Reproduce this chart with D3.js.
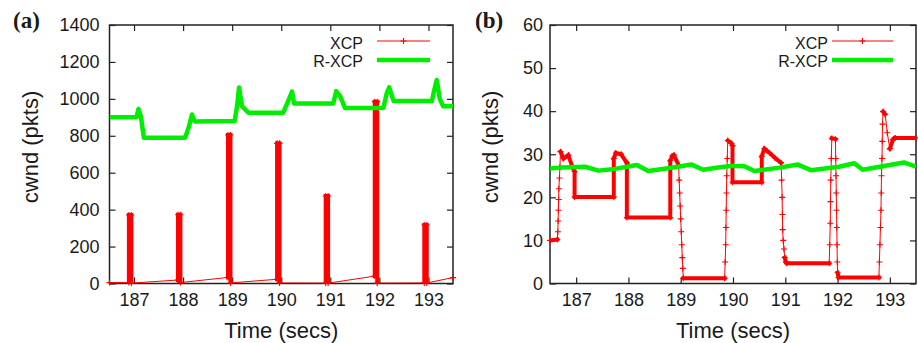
<!DOCTYPE html>
<html>
<head>
<meta charset="utf-8">
<script src="https://cdn.jsdelivr.net/npm/d3@7"></script>
<style>
  body { margin: 0; background: #fff; }
  svg text { font-family: "Liberation Sans", Arial, sans-serif; fill: #1a1a1a; }
</style>
</head>
<body>
<svg id="chart"></svg>
<script>
var timeTicks = [187, 188, 189, 190, 191, 192, 193];
var cwndTicksA = [0, 200, 400, 600, 800, 1000, 1200, 1400];
var cwndTicksB = [0, 10, 20, 30, 40, 50, 60];
var seriesNames = ["XCP", "R-XCP"];
var panelLetters = ["(a)", "(b)"];
var xTitle = "Time (secs)";
var yTitle = "cwnd (pkts)";

// panel (a), XCP: short spikes near each second, slow ramps in between
var xcpA_time = [186.5, 186.895, 186.895, 186.945, 186.945,
  187.895, 187.895, 187.945, 187.945,
  188.915, 188.915, 188.965, 188.965,
  189.915, 189.915, 189.965, 189.965,
  190.905, 190.905, 190.955, 190.955,
  191.905, 191.905, 191.955, 191.955,
  192.915, 192.915, 192.965, 192.965,
  193.5];
var xcpA_cwnd = [5, 5, 371, 371, 2,
  19, 372, 372, 5,
  33, 804, 804, 3,
  23, 759, 759, 3,
  2, 474, 474, 2,
  40, 985, 985, 2,
  3, 317, 317, 3,
  32];

// panel (a), R-XCP
var rxcpA_time = [186.5, 187.05, 187.09, 187.14, 187.20, 188.04, 188.12, 188.18, 188.24,
  189.05, 189.10, 189.14, 189.20, 189.33, 190.04, 190.16, 190.22, 190.26,
  191.06, 191.12, 191.20, 191.30, 192.08, 192.15, 192.20, 192.29,
  193.07, 193.12, 193.17, 193.23, 193.30, 193.5];
var rxcpA_cwnd = [900, 900, 945, 905, 790, 790, 850, 915, 878,
  880, 960, 1062, 960, 925, 925, 1000, 1040, 975,
  975, 1042, 1015, 950, 950, 1030, 1062, 988,
  988, 1050, 1102, 1000, 960, 960];

// panel (b), XCP
var xcpB_time = [186.5, 186.64, 186.65, 186.655, 186.66, 186.665, 186.67, 186.68, 186.69, 186.70,
  186.76, 186.85, 186.93, 186.97, 186.97,
  187.72, 187.72, 187.76, 187.86, 187.97, 187.97,
  188.80, 188.80, 188.84, 188.87, 188.96,
  188.97, 188.98, 188.99, 189.0, 189.01, 189.02, 189.03, 189.04, 189.05,
  189.84, 189.85, 189.86, 189.865, 189.87, 189.875, 189.88, 189.89, 189.90,
  189.97, 189.99, 189.99,
  190.55, 190.55, 190.60, 190.70, 190.80, 190.92,
  190.93, 190.94, 190.945, 190.95, 190.96, 190.975, 190.99, 191.01, 191.03,
  191.84, 191.85, 191.86, 191.865, 191.87, 191.88, 191.89,
  191.96, 191.965, 191.97, 191.975, 191.98, 191.985, 191.99, 191.995, 192.0, 192.02,
  192.79, 192.80, 192.81, 192.82, 192.83, 192.835, 192.84, 192.85, 192.855, 192.86, 192.87,
  192.91, 192.95, 193.0, 193.06, 193.1, 193.5];
var xcpB_cwnd = [10, 10.2, 12, 14.5, 17, 19.5, 22, 24.5, 27, 30.6,
  29.0, 29.8, 27, 26, 20.1,
  20.1, 29, 30.3, 30.0, 28, 15.3,
  15.3, 28.5, 29.6, 29.8, 27.5,
  24, 21, 18, 15, 12, 9, 6, 3.5, 1.2,
  1.2, 5, 9, 13, 17, 21, 25, 29, 33.2,
  32.5, 32, 23.5,
  23.5, 29.5, 31.3, 30.3, 29.2, 28.0,
  24, 20, 16, 12.5, 10, 8, 6, 5, 4.7,
  4.7, 9, 14, 19, 24, 29, 33.7,
  33.5, 29, 25, 21, 17, 13, 9, 5, 2.5, 1.4,
  1.4, 5, 9, 13, 17, 21, 25, 29, 33, 37, 39.9,
  39.3, 35, 31.3, 33.4, 33.8, 33.8];

// panel (b), R-XCP
var rxcpB_time = [186.5, 186.73, 187.17, 187.43, 187.74, 188.16, 188.38, 188.79, 189.21, 189.43,
  189.75, 189.97, 190.22, 190.41, 190.89, 191.24, 191.49, 192.03, 192.32, 192.48,
  192.86, 193.27, 193.5];
var rxcpB_cwnd = [26.7, 26.9, 27.1, 26.2, 26.6, 27.5, 26.1, 26.8, 27.6, 26.4,
  27.0, 27.3, 27.2, 26.1, 26.9, 27.6, 26.3, 27.1, 27.9, 26.4,
  27.2, 28.1, 27.1];

var RED = "#ff0000";
var GREEN = "#00ee00";
var INK = "#1a1a1a";

var svg = d3.select("#chart")
  .attr("width", 918)
  .attr("height", 343);

var panels = [
  { letter: panelLetters[0], letterX: 13, left: 109.5, right: 453, top: 25, bottom: 283.5,
    yMax: 1400, yTicks: cwndTicksA, yPad: 10, yTitleX: 38,
    xcpT: xcpA_time, xcpV: xcpA_cwnd, rT: rxcpA_time, rV: rxcpA_cwnd,
    maxGap: 0.3, legendX: 363, legendLine: [377, 430] },
  { letter: panelLetters[1], letterX: 475, left: 550, right: 916, top: 25, bottom: 283.5,
    yMax: 60, yTicks: cwndTicksB, yPad: 7, yTitleX: 498,
    xcpT: xcpB_time, xcpV: xcpB_cwnd, rT: rxcpB_time, rV: rxcpB_cwnd,
    maxGap: Infinity, legendX: 828, legendLine: [832, 893] }
];

function plus(px, py) {
  return "M" + (px - 3) + "," + py + "h6M" + px + "," + (py - 3) + "v6";
}

panels.forEach(function(p, k) {
  var x = d3.scaleLinear().domain([186.5, 193.5]).range([p.left, p.right]);
  var y = d3.scaleLinear().domain([0, p.yMax]).range([p.bottom, p.top]);
  var g = svg.append("g");
  var fmt = d3.format("d");

  var clipId = "clip" + k;
  svg.append("clipPath").attr("id", clipId)
    .append("rect")
    .attr("x", p.left).attr("y", p.top)
    .attr("width", p.right - p.left).attr("height", p.bottom - p.top);

  // axes, ticks pointing inward on all four sides
  var axes = [
    [d3.axisBottom(x).tickValues(timeTicks).tickFormat(fmt).tickPadding(10), "translate(0," + p.bottom + ")"],
    [d3.axisTop(x).tickValues(timeTicks).tickFormat(""), "translate(0," + p.top + ")"],
    [d3.axisLeft(y).tickValues(p.yTicks).tickFormat(fmt).tickPadding(p.yPad), "translate(" + p.left + ",0)"],
    [d3.axisRight(y).tickValues(p.yTicks).tickFormat(""), "translate(" + p.right + ",0)"]
  ];
  axes.forEach(function(a) {
    var ax = g.append("g")
      .attr("transform", a[1])
      .call(a[0].tickSizeInner(-6).tickSizeOuter(0));
    ax.select(".domain").remove();
    ax.attr("font-family", null).attr("font-size", null);
    ax.selectAll("line").attr("stroke", "#222").attr("stroke-width", 1.2);
    ax.selectAll("text").style("font-size", "18px").attr("fill", INK);
  });

  g.append("rect")
    .attr("x", p.left).attr("y", p.top)
    .attr("width", p.right - p.left).attr("height", p.bottom - p.top)
    .attr("fill", "none").attr("stroke", "#222").attr("stroke-width", 1.5);

  // XCP
  var pts = p.xcpT.map(function(t, i) { return [x(t), y(p.xcpV[i])]; });
  g.append("path")
    .attr("d", d3.line()(pts))
    .attr("fill", "none").attr("stroke", RED).attr("stroke-width", 1)
    .attr("clip-path", "url(#" + clipId + ")");

  var thick = "";
  for (var i = 0; i < pts.length - 1; i++) {
    var dt = p.xcpT[i + 1] - p.xcpT[i];
    var dx = Math.abs(pts[i + 1][0] - pts[i][0]);
    var dy = Math.abs(pts[i + 1][1] - pts[i][1]);
    if (dt === 0 || (dt <= p.maxGap && dy <= 4 * dx + 4)) {
      thick += "M" + pts[i][0] + "," + pts[i][1] + "L" + pts[i + 1][0] + "," + pts[i + 1][1];
    }
  }
  g.append("path")
    .attr("d", thick)
    .attr("fill", "none").attr("stroke", RED).attr("stroke-width", 4)
    .attr("stroke-linecap", "square")
    .attr("clip-path", "url(#" + clipId + ")");

  g.selectAll(".mk").data(pts).join("path")
    .attr("class", "mk")
    .attr("d", function(d) { return plus(d[0], d[1]); })
    .attr("stroke", RED).attr("stroke-width", 1.1).attr("fill", "none");

  // R-XCP
  var rpts = p.rT.map(function(t, i) { return [x(t), y(p.rV[i])]; });
  g.append("path")
    .attr("d", d3.line()(rpts))
    .attr("fill", "none").attr("stroke", GREEN).attr("stroke-width", 4.5)
    .attr("stroke-linejoin", "round")
    .attr("clip-path", "url(#" + clipId + ")");

  // legend
  var lg = g.append("g");
  lg.append("text").attr("x", p.legendX).attr("y", 48.5)
    .attr("text-anchor", "end").style("font-size", "16px").text(seriesNames[0]);
  lg.append("text").attr("x", p.legendX).attr("y", 67)
    .attr("text-anchor", "end").style("font-size", "16px").text(seriesNames[1]);
  lg.append("line")
    .attr("x1", p.legendLine[0]).attr("x2", p.legendLine[1])
    .attr("y1", 41).attr("y2", 41)
    .attr("stroke", RED).attr("stroke-width", 1);
  var mid = (p.legendLine[0] + p.legendLine[1]) / 2;
  lg.append("path").attr("d", plus(mid, 41))
    .attr("stroke", RED).attr("stroke-width", 1.1);
  lg.append("line")
    .attr("x1", p.legendLine[0]).attr("x2", p.legendLine[1])
    .attr("y1", 60).attr("y2", 60)
    .attr("stroke", GREEN).attr("stroke-width", 4.5);

  // titles
  g.append("text")
    .attr("x", (p.left + p.right) / 2).attr("y", 338)
    .attr("text-anchor", "middle").style("font-size", "22px")
    .text(xTitle);
  g.append("text")
    .attr("transform", "translate(" + p.yTitleX + ",147) rotate(-90)")
    .attr("text-anchor", "middle").style("font-size", "22px")
    .text(yTitle);
  g.append("text")
    .attr("x", p.letterX).attr("y", 28)
    .style("font-family", "'Liberation Serif', 'Times New Roman', serif")
    .style("font-weight", "bold").style("font-size", "23px")
    .text(p.letter);
});
</script>
</body>
</html>
